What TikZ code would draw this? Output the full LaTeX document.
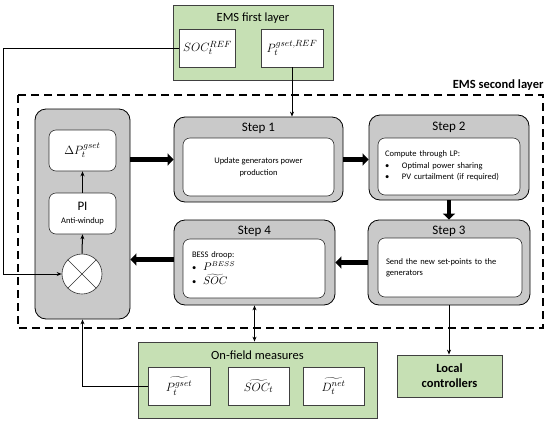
\documentclass[tikz,border=0pt]{standalone}
\usepackage{fontspec}
\setmainfont{Carlito}
\usepackage{amsmath}
\usetikzlibrary{arrows.meta,positioning,calc}
\definecolor{emsgreen}{RGB}{198,224,180}
\definecolor{stepgray}{RGB}{201,201,201}

\begin{document}
\begin{tikzpicture}[x=1pt,y=-1pt,
  greenbox/.style={draw=black!75,fill=emsgreen,line width=0.8pt},
  valbox/.style={draw=black!75,fill=white,line width=0.8pt,minimum height=38pt,font=\fontsize{13}{15}\selectfont},
  stepbox/.style={draw=black,fill=stepgray,rounded corners=11pt,line width=0.8pt},
  innerbox/.style={draw=black!80,fill=white,rounded corners=7pt,line width=0.6pt},
  steptitle/.style={font=\fontsize{13}{15}\selectfont},
  smalltext/.style={font=\fontsize{8.5}{11.5}\selectfont},
  bigarrow/.style={line width=4.5pt,-{Triangle[length=6pt,width=12pt]}},
  sigarrow/.style={line width=1pt,-{Stealth[length=5pt,width=4pt]}},
]
\useasboundingbox (0,0) rectangle (550,424);

  % Top: EMS first layer
  \node[greenbox,minimum width=160pt,minimum height=75pt] (first) at (253,42.5) {};
  \node[font=\fontsize{12.5}{15}\selectfont] (firsttitle) at (253,18) {EMS first layer};
  \node[valbox,minimum width=51pt] (socref) at (207.5,48) {$SOC_t^{REF}$};
  \node[valbox,minimum width=62pt] (pref) at (292,48) {$P_t^{gset,REF}$};

  % EMS second layer frame
  \draw[line width=2.5pt,dash pattern=on 8pt off 5pt] (18,95) rectangle (543,328);
  \node[anchor=east,font=\fontsize{12.5}{15}\selectfont\bfseries] (secondtitle) at (547,85) {EMS second layer};

  % Left: PI controller
  \node[stepbox,minimum width=95pt,minimum height=210pt] (ctrl) at (82.5,214) {};
  \node[innerbox,minimum width=67pt,minimum height=41pt,font=\fontsize{13}{15}\selectfont] (dp) at (82.5,150.5) {$\Delta P_t^{gset}$};
  \node[innerbox,minimum width=67pt,minimum height=41pt,align=center,font=\fontsize{13}{14}\selectfont] (pi) at (82.5,213.5) {PI\\[-1pt]{\fontsize{8.5}{10}\selectfont Anti-windup}};
  \node[circle,draw=black!80,fill=white,line width=0.6pt,minimum size=40pt] (sum) at (82,274) {};
  \draw[black!80,line width=0.6pt] (sum.north east) -- (sum.south west);
  \draw[black!80,line width=0.6pt] (sum.north west) -- (sum.south east);

  % Steps
  \node[stepbox,minimum width=169pt,minimum height=85pt] (step1) at (258.5,159.5) {};
  \node[steptitle] (step1title) at (258.5,128) {Step 1};
  \node[innerbox,smalltext,minimum width=151pt,minimum height=58pt,align=center] (step1in) at (258.5,167) {Update generators power\\production};

  \node[stepbox,minimum width=160pt,minimum height=85pt] (step2) at (449,157.5) {};
  \node[steptitle] (step2title) at (449,127) {Step 2};
  \node[innerbox,minimum width=142pt,minimum height=57pt] (step2in) at (449,166.5) {};
  \node[smalltext,text width=128pt,align=left] (step2txt) at (449,166) {Compute through LP:\\
    \makebox[17pt][l]{\textbullet}Optimal power sharing\\
    \makebox[17pt][l]{\textbullet}PV curtailment (if required)};

  \node[stepbox,minimum width=162pt,minimum height=85pt] (step3) at (449,262.5) {};
  \node[steptitle] (step3title) at (449,231) {Step 3};
  \node[innerbox,minimum width=144pt,minimum height=59pt] (step3in) at (450,267.5) {};
  \node[smalltext,text width=128pt,align=left] (step3txt) at (450,268) {Send the new set-points to the\\generators};

  \node[stepbox,minimum width=161pt,minimum height=85pt] (step4) at (254.5,262.5) {};
  \node[steptitle] (step4title) at (254.5,231) {Step 4};
  \node[innerbox,minimum width=142pt,minimum height=59pt] (step4in) at (254,268.5) {};
  \node[smalltext,text width=124pt,align=left] (step4txt) at (254,268.5) {BESS droop:\\[1pt]
    \makebox[11pt][l]{\textbullet}{\fontsize{10.5}{12}\selectfont$P^{BESS}$}\\[3pt]
    \makebox[11pt][l]{\textbullet}{\fontsize{10.5}{12}\selectfont$\widetilde{SOC}$}};

  % Bottom: on-field measures and local controllers
  \node[greenbox,minimum width=239pt,minimum height=76pt] (meas) at (257.5,380) {};
  \node[font=\fontsize{12.5}{15}\selectfont] (meastitle) at (257.5,355) {On-field measures};
  \node[valbox,minimum width=62pt] (mp) at (179,386) {$\widetilde{P_t^{gset}}$};
  \node[valbox,minimum width=61pt] (msoc) at (258.5,386) {$\widetilde{SOC_t}$};
  \node[valbox,minimum width=61pt] (mnet) at (333.5,386) {$\widetilde{D_t^{net}}$};

  \node[greenbox,minimum width=105pt,minimum height=42pt,align=center,font=\fontsize{12.5}{15}\selectfont\bfseries] (local) at (449.5,376) {Local\\controllers};

  % Thick flow between steps
  \draw[bigarrow] (ctrl.east |- step1.west) -- (step1.west);
  \draw[bigarrow] (step1.east) -- (step1.east -| step2.west);
  \draw[bigarrow] (step2.south) -- (step2.south |- step3.north);
  \draw[bigarrow] (step3.west) -- (step3.west -| step4.east);
  \draw[bigarrow] ([yshift=3pt]step4.west) -- ([yshift=3pt]step4.west -| ctrl.east);

  % Signals
  \draw[sigarrow] (sum.north) -- (pi.south);
  \draw[sigarrow] (pi.north) -- (dp.south);
  \draw[sigarrow] (socref.west) -- ++(-176,0) |- (sum.west);
  \draw[sigarrow] (pref.south) -- (pref.south |- step1.north);
  \draw[line width=1pt,{Stealth[length=5pt,width=4pt]}-{Stealth[length=5pt,width=4pt]}] (step4.south) -- (step4.south |- meas.north);
  \draw[sigarrow] (step3.south) -- (step3.south |- local.north);
  \draw[sigarrow] (mp.west) -| (ctrl.south);
\end{tikzpicture}
\end{document}
